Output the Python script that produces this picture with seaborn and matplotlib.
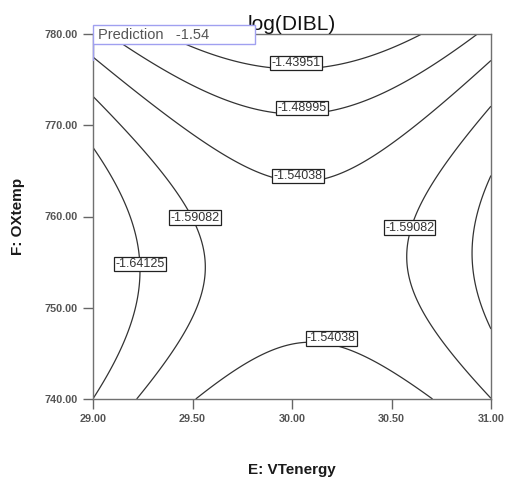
import numpy as np
import pandas as pd
import matplotlib
matplotlib.use("Agg")
import matplotlib.pyplot as plt
import seaborn as sns
from matplotlib.patches import Rectangle

# contour levels shown on the plot
levels = [-1.64125, -1.59082, -1.54038, -1.48995, -1.43951]
prediction = -1.54

# points (E: VTenergy, F: OXtemp)
e_143951 = [29.45, 29.65, 30.02, 30.41, 30.67]
f_143951 = [779.0, 777.3, 776.0, 777.7, 780.0]
e_148995 = [29.14, 29.49, 29.86, 30.05, 30.14, 30.49, 30.93]
f_148995 = [779.0, 775.0, 771.3, 771.0, 771.3, 775.0, 780.0]
e_154038_top = [29.00, 29.40, 29.86, 30.03, 30.14, 30.49, 31.00]
f_154038_top = [777.2, 769.9, 764.2, 763.4, 763.8, 767.7, 776.8]
e_154038_bot = [29.51, 29.74, 30.06, 30.41, 30.70]
f_154038_bot = [740.0, 743.9, 746.3, 744.3, 740.0]
e_159082_left = [29.00, 29.235, 29.50, 29.545, 29.486, 29.226]
f_159082_left = [772.9, 769.9, 759.7, 755.3, 747.6, 740.0]
e_159082_right = [31.00, 30.74, 30.59, 30.584, 30.66, 31.00]
f_159082_right = [771.9, 765.8, 758.7, 755.6, 749.4, 740.0]
e_164125_left = [29.00, 29.15, 29.226, 29.15, 29.00]
f_164125_left = [767.1, 762.2, 754.9, 745.8, 740.0]
e_164125_right = [31.00, 30.93, 30.91, 30.945, 31.00]
f_164125_right = [764.6, 760.0, 755.6, 751.2, 747.4]

# where the boxed labels sit (bottom centre of each box)
label_spots = [(30.02, 775.9), (30.05, 771.0), (30.03, 763.4), (30.20, 746.2),
               (29.50, 759.1), (30.596, 758.1), (29.24, 754.1)]

x_ticks = [29.0, 29.5, 30.0, 30.5, 31.0]
y_ticks = [740, 750, 760, 770, 780]

traces = [
    (levels[4], e_143951, f_143951),
    (levels[3], e_148995, f_148995),
    (levels[2], e_154038_top, f_154038_top),
    (levels[2], e_154038_bot, f_154038_bot),
    (levels[1], e_159082_left, f_159082_left),
    (levels[1], e_159082_right, f_159082_right),
    (levels[0], e_164125_left, f_164125_left),
    (levels[0], e_164125_right, f_164125_right),
]
df = pd.concat([pd.DataFrame({"E": e, "F": f, "z": lv}) for lv, e, f in traces],
               ignore_index=True)

# quadratic response surface in coded units, fitted to the traced points
def design(E, F):
    x = np.asarray(E) - 30.0
    y = (np.asarray(F) - 760.0) / 20.0
    return np.stack([np.ones_like(x), x, y, x * x, y * y, x * y], axis=-1)

coef, *_ = np.linalg.lstsq(design(df.E, df.F), df.z.values, rcond=None)

ee, ff = np.meshgrid(np.linspace(29, 31, 241), np.linspace(740, 780, 241))
zz = design(ee, ff) @ coef

sns.set_style("ticks")
plt.rcParams["font.family"] = ["Liberation Sans", "DejaVu Sans"]

fig = plt.figure(figsize=(5.05, 4.83), dpi=100)
ax = fig.add_axes([93 / 505, 1 - 399 / 483, 398 / 505, 365 / 483])

cs = ax.contour(ee, ff, zz, levels=levels, colors="#333333", linewidths=0.9,
                linestyles="solid")
labels = ax.clabel(cs, fmt="%.5f", manual=label_spots, inline=False, fontsize=9)
for t in labels:
    t.set_rotation(0)
    t.set_va("bottom")
    t.set_color("#333333")
    t.set_bbox(dict(facecolor="white", edgecolor="#222222", linewidth=0.9, pad=0.8))
    t.set_zorder(6)

ax.set_xlim(29, 31)
ax.set_ylim(740, 780)
ax.set_xticks(x_ticks)
ax.set_yticks(y_ticks)
ax.xaxis.set_major_formatter(matplotlib.ticker.FormatStrFormatter("%.2f"))
ax.yaxis.set_major_formatter(matplotlib.ticker.FormatStrFormatter("%.2f"))
ax.tick_params(direction="out", length=7, width=1, color="#666666",
               labelsize=7.8, labelcolor="#555555", pad=4)
for lab in ax.get_xticklabels() + ax.get_yticklabels():
    lab.set_fontweight("bold")
for sp in ax.spines.values():
    sp.set_visible(True)
    sp.set_color("#707070")
    sp.set_linewidth(1.0)

ax.set_title("log(DIBL)", fontsize=15, pad=0.5, color="#111111")
ax.set_xlabel("E: VTenergy", fontsize=11, fontweight="bold", color="#1a1a1a", va="center")
ax.set_ylabel("F: OXtemp", fontsize=11, fontweight="bold", color="#1a1a1a", va="center")
ax.xaxis.set_label_coords(0.5, -0.195)
ax.yaxis.set_label_coords(-0.188, 0.5)

# prediction flag in the top-left corner
ax.add_patch(Rectangle((0, 0.9726), 0.407, 0.052, transform=ax.transAxes,
                       facecolor="white", edgecolor="#a0a0f0", linewidth=1.0,
                       clip_on=False, zorder=7))
ax.plot([0, 0], [0.929, 0.9726], transform=ax.transAxes, color="#a0a0f0",
        linewidth=1.0, clip_on=False, zorder=7)
ax.text(0.012, 0.9986, f"Prediction   {prediction:.2f}", transform=ax.transAxes,
        fontsize=10.5, color="#555555", va="center", ha="left", zorder=8)

fig.savefig("out.png", dpi=100)
